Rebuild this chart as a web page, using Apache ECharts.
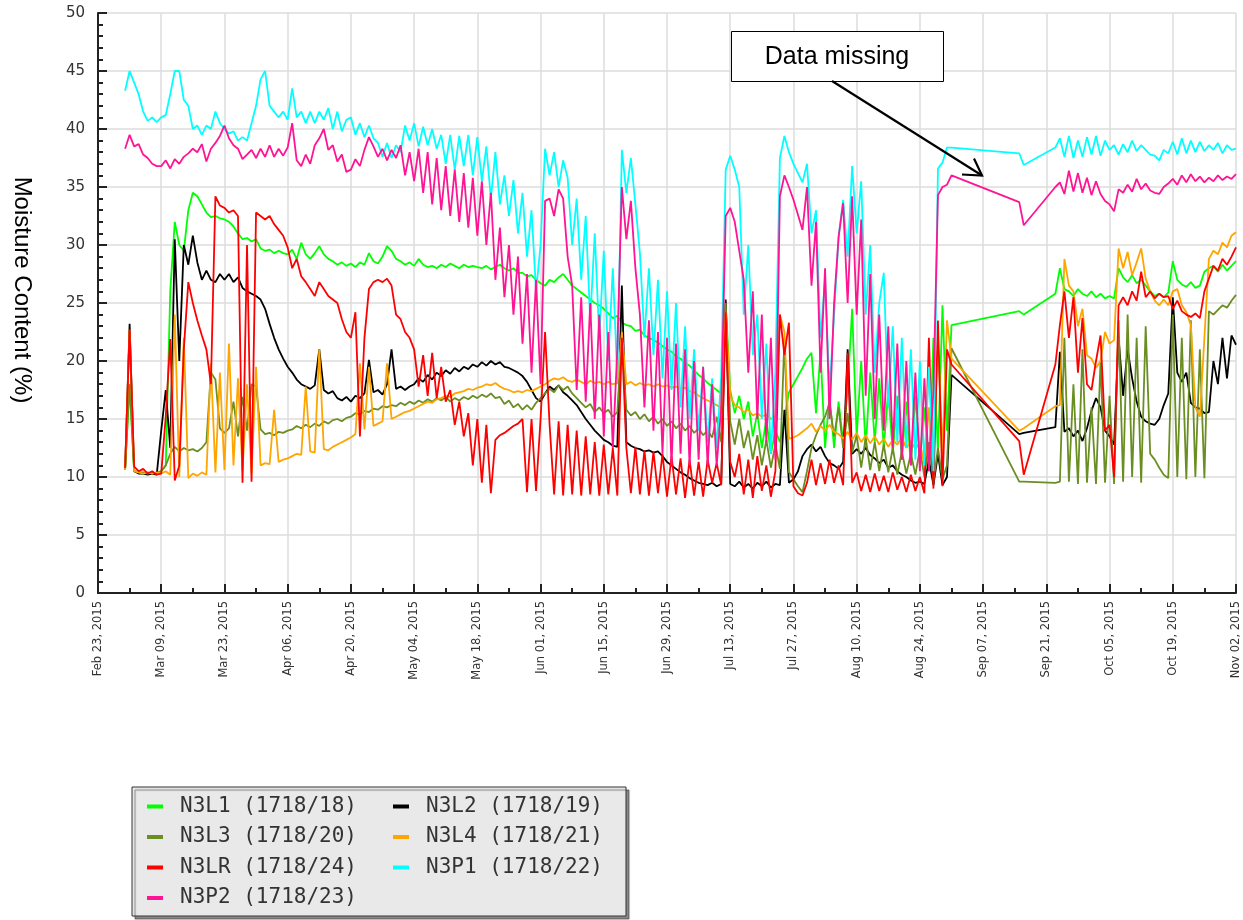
<!DOCTYPE html>
<html><head><meta charset="utf-8">
<script src="https://cdn.jsdelivr.net/npm/echarts/dist/echarts.min.js"></script>
<style>html,body{margin:0;padding:0;background:#fff}#c{width:1243px;height:920px}</style>
</head><body><div id="c"></div>
<script>
// x values are day offsets from Feb 23, 2015; each array starts at day FIRST_DAY (Mar 01) and runs daily to day 252 (Nov 02)
const FIRST_DAY = 6;
const tickLabels = ['Feb 23, 2015','Mar 09, 2015','Mar 23, 2015','Apr 06, 2015','Apr 20, 2015','May 04, 2015','May 18, 2015','Jun 01, 2015','Jun 15, 2015','Jun 29, 2015','Jul 13, 2015','Jul 27, 2015','Aug 10, 2015','Aug 24, 2015','Sep 07, 2015','Sep 21, 2015','Oct 05, 2015','Oct 19, 2015','Nov 02, 2015'];
const seriesNames = ['N3L1 (1718/18)','N3L2 (1718/19)','N3L3 (1718/20)','N3L4 (1718/21)','N3LR (1718/24)','N3P1 (1718/22)','N3P2 (1718/23)'];
const _ = null;

const N3L1 = [10.6,18,10.5,10.4,10.3,10.4,10.3,10.4,
10.5,11,26,32,30,29.5,33,34.5,34.2,33.5,32.8,32.4,32.5,32.3,
32.2,32,31.6,31,30.5,30.6,30.3,30.5,29.7,29.5,29.6,29.3,29.5,29.3,
29.2,29.6,28.8,30.2,29.2,28.8,29.3,29.9,29.2,28.8,28.6,28.3,28.5,28.2,
28.4,28.1,28.5,28.3,29.3,28.6,28.4,29,29.9,29.5,28.8,28.6,28.3,28.5,
28.2,28.8,28.3,28.1,28.2,28.0,28.3,28.1,28.4,28.2,28.0,28.3,28.1,28.2,
28.1,28.0,28.2,27.9,28.1,28.3,28.0,27.8,28.0,27.6,27.6,27.3,27.4,27.0,
26.7,26.5,27.0,26.8,27.2,27.5,27.0,26.5,26.2,25.9,25.6,25.3,25.0,24.8,
24.5,24.1,23.7,23.9,23.3,23.1,23.0,22.6,22.7,22.2,22.0,21.8,21.6,21.3,
21.0,20.8,20.4,20.2,19.8,19.6,19.2,18.8,18.5,18.1,17.8,17.5,17.2,25,
17.5,15.5,17,15,16.5,13.5,15.5,12.5,15,12,14,13,15,17.3,
18,18.7,19.4,20.2,20.7,15.5,20.8,12.5,17,12.5,16.5,13,17.5,24.5,
13.5,20,12.5,19,13,18.5,12.5,17.5,12,17,11.5,16.5,11,17,
11.5,16,10.5,22,12,24.8,14,23.1,_,_,_,_,_,_,
_,_,_,_,_,_,_,_,24.3,24.0,_,_,_,_,
_,_,25.8,28,26.2,26.0,25.6,26.2,25.8,25.6,26,25.5,25.8,25.4,
25.6,25.4,28,27.2,26.8,27.4,26.7,27,26.5,26,25.6,25.8,25.5,25.9,
28.6,27,26.6,26.4,26.8,26.3,26.5,27.7,28,28.2,27.7,28.3,27.8,28.2,
28.6];

const N3L2 = [10.6,23.2,10.5,10.3,10.3,10.2,10.3,10.2,
14,17.5,12.5,30.5,20,30,28.3,30.8,28.5,27,27.8,27,26.8,27.5,
27,27.5,26.8,27.2,26.3,26,25.8,25.6,25.3,24.5,23.2,22,21,20.2,
19.5,19.0,18.4,18.0,17.8,17.6,17.9,21,17.5,17.2,17.4,16.8,16.6,16.9,
16.5,17,16.8,17.2,20.1,17.3,17.5,17.1,18,21,17.6,17.8,17.5,17.8,
18,18.5,18.2,18.8,18.4,19,18.7,19.2,18.9,19.4,19.1,19.5,19.3,19.7,
19.5,19.9,19.6,20,19.7,19.9,19.5,19.4,19.2,19.0,18.7,18.2,17.5,16.8,
16.5,17.2,17.8,17.5,17.9,17.3,17.0,16.6,16.2,15.6,15.0,14.5,14.0,13.6,
13.2,13.0,12.7,12.6,26.5,13,12.7,12.5,12.4,12.2,12.3,12.1,12.2,11.8,
11.3,11,10.7,10.4,10.2,9.9,9.7,9.5,9.4,9.3,9.5,9.2,9.4,25.3,
9.4,9.2,9.6,9.1,9.4,9.0,9.5,9.2,9.6,9.1,9.4,9.3,15.8,9.5,
9.8,10.5,11.8,12.4,12.8,12.2,12.6,11.8,11.2,11.0,10.7,11.3,21,12,
12.4,12.0,12.5,11.9,11.6,11.2,11.5,10.8,11.0,10.5,10.2,10.0,9.7,9.5,
9.6,9.4,11.5,9.3,12,9.3,10,18.8,_,_,_,_,_,_,
_,_,_,_,_,_,_,_,13.7,13.8,_,_,_,_,
_,_,14.3,20.8,13.9,14.2,13.5,14,13.1,14.2,15.7,16.8,16,14,
13.5,12.8,22,17,21,18.5,16.5,15.2,14.8,14.6,14.5,15,16.2,17.2,
25.5,19,18.2,19,16.4,16,15.9,15.5,15.6,20,18,22,18.5,22.2,
21.4];

const N3L3 = [10.6,18,10.5,10.4,10.4,10.3,10.4,10.3,
10.5,11,12,12.6,12.2,12.5,12.3,12.4,12.2,12.5,13,19,18.4,14.2,
13.8,14.2,16.5,13.5,16.9,14,18,17.8,14.1,13.7,13.8,13.6,13.9,13.8,
14.0,14.1,14.4,14.2,14.5,14.3,14.6,14.4,14.8,14.6,14.9,15.0,14.8,15.1,
15.2,15.5,15.4,15.7,15.6,15.9,15.8,16.1,16.0,16.2,16.1,16.4,16.2,16.5,
16.3,16.6,16.4,16.7,16.5,16.8,16.6,16.9,16.5,16.8,16.6,16.9,16.7,17.0,
16.8,17.1,16.9,17.2,16.8,16.9,16.3,16.6,16.0,16.3,15.8,16.2,15.8,16.4,
16.8,17.2,17.6,17.3,17.9,17.5,17.8,17.2,16.8,16.4,16.0,16.3,15.6,16.0,
15.5,15.8,15.2,15.6,22,15.8,15.3,15.6,15.0,15.4,14.8,15.2,14.6,15.0,
14.4,14.8,14.2,14.6,14.0,14.4,13.8,14.2,13.6,14,13.4,15.2,13,25,
14.8,12.8,15,12.5,14,11.5,13.6,11,13.2,10.8,12.8,10.7,22,10.4,
9.8,9.2,8.7,10.5,12.5,13.6,14.5,15.2,16.4,13.5,16,12.5,15.5,12.1,
13.6,10.8,13.4,10.6,13,10.5,12.8,10.4,12.5,10.2,12.2,10.3,12,10.2,
12.4,10,13,9.6,12.5,9.8,11,21.1,_,_,_,_,_,_,
_,_,_,_,_,_,_,_,9.6,9.6,_,_,_,_,
_,_,9.5,9.6,22,9.6,18,9.4,21,9.5,16,9.4,20,9.5,
17,9.4,23.5,9.6,24,10,22,9.5,23,12,11.5,10.8,10.2,9.9,
24,10,22,9.8,23.5,10,21,9.9,24.3,24,24.4,24.8,24.6,25.2,
25.7];

const N3L4 = [10.6,22.7,10.5,10.4,10.3,10.4,10.3,10.4,
10.3,10.5,10.2,24,10,22,9.9,10.3,10.1,10.4,10.2,19.8,10.4,19,
10.6,21.5,11,18.5,10.5,18,10.3,19.5,11,11.2,11.1,15.8,11.3,11.5,
11.6,11.8,12,11.9,17.8,12.2,12.1,21,12.4,12.3,12.6,12.8,13,13.2,
13.4,13.7,19.8,14.1,19.5,14.4,14.6,14.8,19.8,15,15.2,15.4,15.6,15.7,
15.9,16.1,16.3,16.5,16.4,16.7,16.8,17.0,16.9,17.2,17.3,17.4,17.6,17.5,
17.7,17.8,18,17.9,18.1,17.8,17.6,17.5,17.3,17.4,17.3,17.5,17.4,17.6,
17.8,18.0,18.3,18.5,18.4,18.6,18.3,18.2,18.4,18.2,18.0,18.3,18.1,18.2,
18.0,18.2,18.0,18.1,22.5,18.0,18.2,17.9,18.1,17.9,18.0,17.8,18.0,17.8,
17.9,17.7,17.8,17.6,17.7,17.4,17.3,17.0,16.8,16.6,16.4,16.2,15.9,24.2,
17,16.2,16,15.6,15.8,15.3,15.5,15.2,15.4,15,15.2,24,22.5,13.3,
13.4,13.6,13.9,14.2,14.6,13.9,14.4,14.0,14.5,13.9,13.7,13.3,13.9,13.2,
13.8,13.0,13.6,12.9,13.5,12.8,13.3,12.6,13.2,12.8,13.4,12.5,13.1,12.4,
13,11,16,10.5,22,12,23.5,20.2,_,_,_,_,_,_,
_,_,_,_,_,_,_,_,14,14.2,_,_,_,_,
_,_,16.1,16.2,28.8,26.5,26,23,24.5,20.5,20.2,19.4,20,22.5,
21.5,21.8,29.7,28,29.4,27.4,28.5,29.7,27.1,26,25.2,24.8,25.3,24.8,
26,26.2,24.8,24.2,23.1,16,15.2,22,28.8,29.5,29.2,30.2,29.8,30.8,
31.1];

const N3LR = [10.8,22.7,10.9,10.5,10.7,10.3,10.5,10.2,
10.3,15.2,21.9,9.7,11,21,26.8,25,23.5,22.2,21,18,34.2,33.4,
33.2,32.8,33,32.5,9.5,30,9.6,32.8,32.5,32.2,32.5,31.8,31.3,30.8,
29.8,28,28.8,27.3,26.8,26.2,25.6,26.8,26.2,25.6,25.3,25,23.6,22.5,
22,24.2,13.5,22,26.2,26.8,27,26.8,27.1,26.5,24,23.6,22.5,22,
21,17.8,20.5,17,20.7,16.8,19.5,16.5,17.5,14.5,16.5,13.5,15.5,11,
15,9.5,14.5,8.6,13.2,13.6,13.8,14.1,14.4,14.6,15,8.7,15,8.8,
15,22.5,14.5,8.5,14.8,8.4,14.5,8.5,14,8.4,13.5,8.5,13,8.4,
12.8,8.5,12.5,8.4,22,12.5,8.6,12.6,8.5,12.3,8.4,12.2,8.6,12,
8.3,11.8,8.5,11.6,8.2,11.5,8.4,11.3,8.3,11.5,9.5,11.2,9.3,24.2,
11.3,10,12,8.5,11.5,8.2,11.8,8.8,11,8.3,10.5,24,20.5,23.3,
9.2,8.6,8.4,9.5,11.5,9.3,11.2,9.4,11.5,9.5,11,9.3,20.7,9.5,
10.4,8.8,10.2,8.7,10.3,8.8,10.1,8.7,10.4,8.9,10,8.7,10.2,8.8,
10,8.6,22,9,23.5,9.2,21,19.7,_,_,_,_,_,_,
_,_,_,_,_,_,_,_,13.1,10.2,_,_,_,_,
_,_,19.7,23.1,26,22,25.5,19,23.7,18,17.5,20,22.2,14,
14.5,10,24.8,25.5,24.8,26,25.2,27.7,25.5,26,25.4,25.8,25.5,25.6,
24.5,25.2,24.3,24,23.8,24.1,23.7,26,27.1,28.2,27.8,28.8,28.3,29,
29.8];

const N3P1 = [43.3,45,44,43,41.5,40.7,41,40.6,
41,41.2,43,45,45,42.5,42,40,40.3,39.5,40.3,40,41.5,40.5,
40,39.6,39.8,39,39.3,39,40.5,42,44.3,45,42,41.5,41,41.5,
40.8,43.5,41,41.5,40.5,41.5,40.5,41.5,40.8,41.8,40,41.5,39.8,40.8,
41,39.5,40.5,39.3,40.3,39.2,38.8,37.6,38.8,37.5,38.6,38,40.3,39,
40.5,38.5,40.2,38.6,40,38.3,39.5,37,39.5,36.5,39.4,36.8,39.5,36,
39.3,35.5,38.5,34,38,33.5,36,32.5,35.6,31,34.5,29,33,26,
30,38.3,36,38,35,37.3,35.8,30,34,27,32.5,23.5,31,22,
29.5,20,28,18.5,38.2,34.5,37.5,33.5,29.3,22,28,20.5,27,18.5,
26,17.5,25,16,23,15,21,14,19.5,13,18.5,12.5,18.7,36.5,
37.7,36.5,35,24,30,20.5,24,15,21.5,12,19,37.5,39.4,38,
37,36.2,35.4,37,31,33,22,27,17.5,24,30.7,33.9,29,36.8,
31,35.5,24,30,19,25,27.6,16,23,13,22,12.5,21,11.5,
20,11,19.5,10.5,36.6,37.1,38.4,38.4,_,_,_,_,_,_,
_,_,_,_,_,_,_,_,37.9,36.9,_,_,_,_,
_,_,38.4,39.2,37.6,39.4,37.5,39,37.6,39.3,37.8,39.4,37.7,39,
38.2,38.6,37.8,38.7,38.0,39.0,38.1,38.6,38.2,37.8,37.7,37.3,38.2,37.9,
38.9,37.8,39.2,37.9,39,38,38.9,38.1,38.6,38.2,38.8,37.9,38.6,38.2,
38.3];

const N3P2 = [38.3,39.5,38.5,38.7,37.8,37.5,37,36.8,
36.8,37.3,36.6,37.4,37,37.6,37.9,38.3,38,38.7,37.2,38.3,38.8,39.4,
40.3,39.2,38.6,38.3,37.4,37.8,38.2,37.5,38.3,37.6,38.6,37.6,38.3,37.7,
38.4,40.5,37.3,36.8,37.8,37.0,38.6,39.2,40,38.2,38.6,37.2,37.8,36.3,
36.5,37.4,36.8,38.2,39.3,38.5,37.6,38.3,37.3,38.2,37.5,38.6,36,38,
35.5,38.3,34.5,38,33.5,37.5,33,36.8,32.5,36.5,32,36.2,31.5,35.8,
30.8,35.5,30,34.5,27,31.5,25.5,30,24,29,21.5,27.5,19,27,
18,33.8,34,32.5,34.8,34,29,26.5,17.5,25.5,16.5,25,15,24,
13.5,22.5,12.5,21,35,30.5,33.8,28,24,16,23.5,14,22.5,12,
22,11,21.5,12,21,11,20,11.5,19.5,11,18,11,16,32.5,
33.2,32,29.5,27,19,26,15,24,13,22,11.5,34.2,36,35,
33.9,32.6,31.3,35,26.5,32,19,28,15,25,30.7,33.6,25,34.2,
24,32.2,17,27.5,15,24,14,23,12.5,21.5,11.5,20,11,19,
10.5,18.5,10.5,17.5,34.3,35,35.2,36,_,_,_,_,_,_,
_,_,_,_,_,_,_,_,33.7,31.7,_,_,_,_,
_,_,35,35.4,34.4,36.4,34.6,36.2,34.5,35.8,34.3,35.5,34.4,33.8,
33.5,32.9,34.8,34.5,35.2,34.6,35.7,34.8,35.3,34.7,34.5,34.4,35,35.3,
35.7,35.2,36,35.4,36.1,35.5,35.9,35.4,35.8,35.5,36,35.6,35.9,35.7,
36.1];

const seriesValues = [N3L1, N3L2, N3L3, N3L4, N3LR, N3P1, N3P2];
const seriesColors = ['#00ff00', '#000000', '#6b8e23', '#ffa500', '#ff0000', '#00ffff', '#ff1493'];
const legendCol1 = [seriesNames[0], seriesNames[2], seriesNames[4], seriesNames[6]];
const legendCol2 = [seriesNames[1], seriesNames[3], seriesNames[5]];

function toPoints(vals) {
  const pts = [];
  vals.forEach((v, i) => { if (v !== null) pts.push([FIRST_DAY + i, v]); });
  return pts;
}

const chart = echarts.init(document.getElementById('c'), null, {renderer: 'canvas'});

const legendText = {fontFamily: 'DejaVu Sans Mono', fontSize: 21, color: '#333', lineHeight: 21, padding: [0, 0, 0, 12]};

chart.setOption({
  animation: false,
  backgroundColor: '#ffffff',
  grid: {left: 98, right: 7, top: 13, bottom: 327, containLabel: false},
  xAxis: {
    type: 'value', min: 0, max: 252, interval: 14,
    axisLine: {show: true, lineStyle: {color: '#222', width: 2}},
    axisTick: {show: true, inside: true, length: 9, lineStyle: {color: '#222', width: 2}},
    minorTick: {show: true, splitNumber: 2, length: 5, lineStyle: {color: '#222', width: 2}},
    splitLine: {show: true, lineStyle: {color: '#dcdcdc', width: 1.5}},
    axisLabel: {
      rotate: 90, margin: 8, fontFamily: 'DejaVu Sans', fontSize: 11.5, color: '#333',
      formatter: v => (v % 14 === 0 ? tickLabels[v / 14] : '')
    }
  },
  yAxis: {
    type: 'value', min: 0, max: 50, interval: 5,
    axisLine: {show: true, lineStyle: {color: '#222', width: 2}},
    axisTick: {show: true, inside: true, length: 9, lineStyle: {color: '#222', width: 2}},
    minorTick: {show: true, splitNumber: 5, length: 5, lineStyle: {color: '#222', width: 2}},
    splitLine: {show: true, lineStyle: {color: '#dcdcdc', width: 1.5}},
    axisLabel: {margin: 13, fontFamily: 'DejaVu Sans', fontSize: 15, color: '#333'}
  },
  legend: [
    {data: legendCol1, orient: 'vertical', left: 147, top: 796, padding: 0, itemGap: 9.5,
     icon: 'rect', itemWidth: 16, itemHeight: 4, selectedMode: false, textStyle: legendText},
    {data: legendCol2, orient: 'vertical', left: 393, top: 796, padding: 0, itemGap: 9.5,
     icon: 'rect', itemWidth: 16, itemHeight: 4, selectedMode: false, textStyle: legendText}
  ],
  series: seriesNames.map((name, k) => ({
    name: name, type: 'line', data: toPoints(seriesValues[k]),
    showSymbol: false, symbol: 'none', color: seriesColors[k],
    lineStyle: {color: seriesColors[k], width: 1.8}, z: 2 + k * 0.01
  })),
  graphic: [
    {type: 'text', z: 10, rotation: -Math.PI / 2, x: 22, y: 290,
     style: {text: 'Moisture Content (%)', font: '24px "Liberation Sans", Arial, sans-serif', fill: '#000',
             textAlign: 'center', textVerticalAlign: 'middle'}},
    {type: 'rect', z: 0, shape: {x: 132, y: 787, width: 494, height: 129},
     style: {fill: '#e9e9e9', stroke: '#333', lineWidth: 1, shadowColor: 'rgba(0,0,0,0.45)', shadowOffsetX: 3, shadowOffsetY: 3, shadowBlur: 1}},
    {type: 'rect', z: 20, shape: {x: 731.5, y: 31.5, width: 212, height: 50},
     style: {fill: '#fff', stroke: '#000', lineWidth: 1}},
    {type: 'text', z: 21, x: 837, y: 57,
     style: {text: 'Data missing', font: '25px "Liberation Sans", Arial, sans-serif', fill: '#000', textAlign: 'center', textVerticalAlign: 'middle'}},
    {type: 'polyline', z: 21, shape: {points: [[832, 81], [982, 175.5]]}, style: {stroke: '#000', lineWidth: 2.2}},
    {type: 'polyline', z: 21, shape: {points: [[962, 174.5], [982, 175.5], [974, 158.5]]}, style: {stroke: '#000', lineWidth: 2.2, fill: null}}
  ]
});
</script></body></html>
